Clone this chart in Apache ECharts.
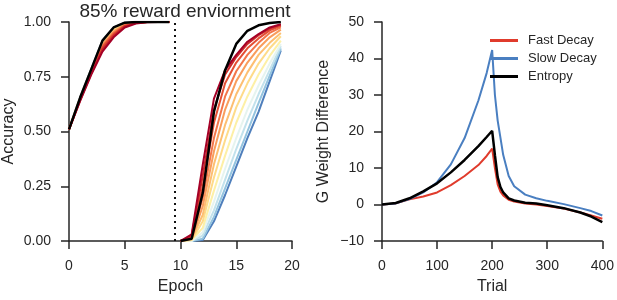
<!DOCTYPE html>
<html>
<head>
<meta charset="utf-8">
<script src="https://cdn.jsdelivr.net/npm/echarts@6/dist/echarts.min.js"></script>
<style>
  html, body { margin: 0; padding: 0; background: #fff; }
  #main { width: 617px; height: 300px; }
</style>
</head>
<body>
<div id="main"></div>
<script>
  /* 왼쪽: 정확도 곡선 */
  var epochsA = [0, 1, 2, 3, 4, 5, 6, 7, 8, 9];
  var epochsB = [10, 11, 12, 13, 14, 15, 16, 17, 18, 19];
  var switchEpoch = 9.5;

  // 색깔 곡선들 (빨강 -> 파랑 순서)
  var curveColors = ['#a50026', '#cc2a2a', '#e44f35', '#f3764a', '#f99d5c', '#fdbf71',
                     '#fedb89', '#fdf0a6', '#e6f4ef', '#c2e2ec', '#94c4df', '#4f7fbc'];

  var accA = [
    [0.51, 0.640, 0.760, 0.865, 0.930, 0.975, 0.993, 0.999, 1, 1],
    [0.51, 0.642, 0.765, 0.875, 0.938, 0.980, 0.995, 1, 1, 1],
    [0.51, 0.645, 0.770, 0.885, 0.945, 0.983, 0.996, 1, 1, 1],
    [0.51, 0.647, 0.773, 0.890, 0.950, 0.986, 0.997, 1, 1, 1],
    [0.51, 0.649, 0.776, 0.895, 0.955, 0.988, 0.998, 1, 1, 1],
    [0.51, 0.651, 0.778, 0.900, 0.960, 0.990, 0.998, 1, 1, 1],
    [0.51, 0.652, 0.780, 0.903, 0.963, 0.991, 0.999, 1, 1, 1],
    [0.51, 0.653, 0.781, 0.905, 0.966, 0.993, 0.999, 1, 1, 1],
    [0.51, 0.654, 0.782, 0.908, 0.968, 0.994, 1, 1, 1, 1],
    [0.51, 0.654, 0.783, 0.910, 0.970, 0.995, 1, 1, 1, 1],
    [0.51, 0.655, 0.784, 0.912, 0.972, 0.996, 1, 1, 1, 1],
    [0.51, 0.655, 0.785, 0.913, 0.974, 0.997, 1, 1, 1, 1]
  ];

  var accB = [
    [0, 0.030, 0.35, 0.65, 0.78, 0.850, 0.910, 0.945, 0.975, 0.990],
    [0, 0.025, 0.30, 0.60, 0.76, 0.840, 0.900, 0.940, 0.970, 0.988],
    [0, 0.020, 0.25, 0.54, 0.72, 0.815, 0.880, 0.925, 0.962, 0.983],
    [0, 0.015, 0.20, 0.47, 0.66, 0.775, 0.850, 0.905, 0.950, 0.975],
    [0, 0.010, 0.16, 0.41, 0.60, 0.730, 0.815, 0.880, 0.930, 0.965],
    [0, 0.010, 0.12, 0.35, 0.53, 0.670, 0.770, 0.850, 0.905, 0.950],
    [0, 0.005, 0.09, 0.29, 0.46, 0.610, 0.720, 0.810, 0.880, 0.935],
    [0, 0.005, 0.06, 0.23, 0.39, 0.540, 0.660, 0.760, 0.845, 0.915],
    [0, 0, 0.04, 0.18, 0.33, 0.470, 0.600, 0.710, 0.810, 0.900],
    [0, 0, 0.025, 0.14, 0.28, 0.420, 0.550, 0.670, 0.780, 0.890],
    [0, 0, 0.010, 0.11, 0.24, 0.370, 0.500, 0.630, 0.755, 0.880],
    [0, 0, 0.005, 0.09, 0.21, 0.340, 0.470, 0.590, 0.730, 0.870]
  ];

  var blackA = [0.51, 0.655, 0.785, 0.915, 0.975, 0.997, 1, 1, 1, 1];
  var blackB = [0, 0.01, 0.22, 0.59, 0.78, 0.90, 0.96, 0.985, 0.995, 1];

  /* 오른쪽: G weight 차이 */
  var trials = [0, 25, 50, 75, 100, 125, 150, 175, 190, 200, 205, 210, 215, 220,
                230, 240, 260, 280, 300, 330, 360, 380, 400];
  var fastDecay = [0, 0.3, 1.4, 2.2, 3.3, 5.3, 7.8, 10.8, 13.3, 15.3, 10, 5.5, 3.5, 2.5,
                   1.3, 0.8, 0.3, 0, -0.4, -1.1, -2.2, -3.0, -3.9];
  var slowDecay = [0, 0.3, 1.5, 3.3, 6.1, 11, 18.2, 28.5, 36, 42.3, 30, 23, 18.3, 13.6,
                   7.8, 5.0, 2.7, 1.7, 1.0, 0.1, -1.0, -1.8, -3.0];
  var entropy = [0, 0.4, 1.7, 3.6, 5.8, 8.8, 12.2, 16, 18.5, 20.2, 13.5, 7.5, 4.8, 3.3,
                 1.7, 1.1, 0.5, 0.25, -0.2, -1.0, -2.2, -3.3, -4.8];

  function pairs(xs, ys) {
    return xs.map(function (x, i) { return [x, ys[i]]; });
  }

  var FONT = 'Liberation Sans, Arial, sans-serif';
  var INK = '#262626';

  function axisBase() {
    return {
      axisLine: { show: true, onZero: false, lineStyle: { color: INK, width: 1.5 } },
      axisTick: { show: true, inside: false, length: 8, lineStyle: { color: INK, width: 1.5 } },
      splitLine: { show: false },
      axisLabel: { color: INK, fontSize: 14, fontFamily: FONT, margin: 18 },
      nameTextStyle: { color: INK, fontSize: 16, fontFamily: FONT },
      nameLocation: 'middle'
    };
  }

  var series = [];

  // 파랑부터 그리고 빨강을 위에
  for (var i = accA.length - 1; i >= 0; i--) {
    series.push({
      type: 'line', xAxisIndex: 0, yAxisIndex: 0, symbol: 'none', silent: true,
      lineStyle: { color: curveColors[i], width: 2 },
      data: pairs(epochsA, accA[i])
    });
    series.push({
      type: 'line', xAxisIndex: 0, yAxisIndex: 0, symbol: 'none', silent: true,
      lineStyle: { color: curveColors[i], width: 2 },
      data: pairs(epochsB, accB[i])
    });
  }
  series.push({
    type: 'line', xAxisIndex: 0, yAxisIndex: 0, symbol: 'none', silent: true,
    lineStyle: { color: '#000', width: 2.5 },
    data: pairs(epochsA, blackA),
    markLine: {
      silent: true, symbol: 'none', label: { show: false },
      lineStyle: { color: '#111', width: 2, type: [2, 4] },
      data: [{ xAxis: switchEpoch }]
    }
  });
  series.push({
    type: 'line', xAxisIndex: 0, yAxisIndex: 0, symbol: 'none', silent: true,
    lineStyle: { color: '#000', width: 2.5 },
    data: pairs(epochsB, blackB)
  });

  series.push({
    name: 'Fast Decay', type: 'line', xAxisIndex: 1, yAxisIndex: 1, symbol: 'none',
    lineStyle: { color: '#e03b2c', width: 2 }, itemStyle: { color: '#e03b2c' },
    data: pairs(trials, fastDecay)
  });
  series.push({
    name: 'Slow Decay', type: 'line', xAxisIndex: 1, yAxisIndex: 1, symbol: 'none',
    lineStyle: { color: '#4a7fc1', width: 2 }, itemStyle: { color: '#4a7fc1' },
    data: pairs(trials, slowDecay)
  });
  series.push({
    name: 'Entropy', type: 'line', xAxisIndex: 1, yAxisIndex: 1, symbol: 'none',
    lineStyle: { color: '#000', width: 2.5 }, itemStyle: { color: '#000' },
    data: pairs(trials, entropy)
  });

  var myChart = echarts.init(document.getElementById('main'), null, { renderer: 'canvas' });

  var option = {
    animation: false,
    backgroundColor: '#fff',
    title: {
      text: '85% reward enviornment',
      left: 180, top: -3, textAlign: 'center',
      textStyle: { color: INK, fontSize: 19, fontWeight: 'normal', fontFamily: FONT }
    },
    legend: {
      data: ['Fast Decay', 'Slow Decay', 'Entropy'],
      orient: 'vertical', left: 485, top: 29,
      icon: 'rect', itemWidth: 28, itemHeight: 3, itemGap: 5,
      textStyle: { color: INK, fontSize: 13, fontFamily: FONT, padding: [0, 0, 0, 5] }
    },
    grid: [
      { left: 69, right: 325, top: 22, bottom: 56, containLabel: false },
      { left: 382, right: 12, top: 22, bottom: 56, containLabel: false }
    ],
    xAxis: [
      Object.assign(axisBase(), {
        type: 'value', gridIndex: 0, min: 0, max: 20, interval: 5,
        name: 'Epoch', nameGap: 38
      }),
      Object.assign(axisBase(), {
        type: 'value', gridIndex: 1, min: 0, max: 400, interval: 100,
        name: 'Trial', nameGap: 38
      })
    ],
    yAxis: [
      Object.assign(axisBase(), {
        type: 'value', gridIndex: 0, min: 0, max: 1, interval: 0.25,
        name: 'Accuracy', nameGap: 52,
        axisLabel: { color: INK, fontSize: 14, fontFamily: FONT, margin: 18,
          formatter: function (v) { return v.toFixed(2); } }
      }),
      Object.assign(axisBase(), {
        type: 'value', gridIndex: 1, min: -10, max: 50, interval: 10,
        name: 'G Weight Difference', nameGap: 50,
        axisLabel: { color: INK, fontSize: 14, fontFamily: FONT, margin: 18,
          formatter: function (v) { return String(v).replace('-', '\u2212'); } }
      })
    ],
    series: series
  };

  myChart.setOption(option);
</script>
</body>
</html>
